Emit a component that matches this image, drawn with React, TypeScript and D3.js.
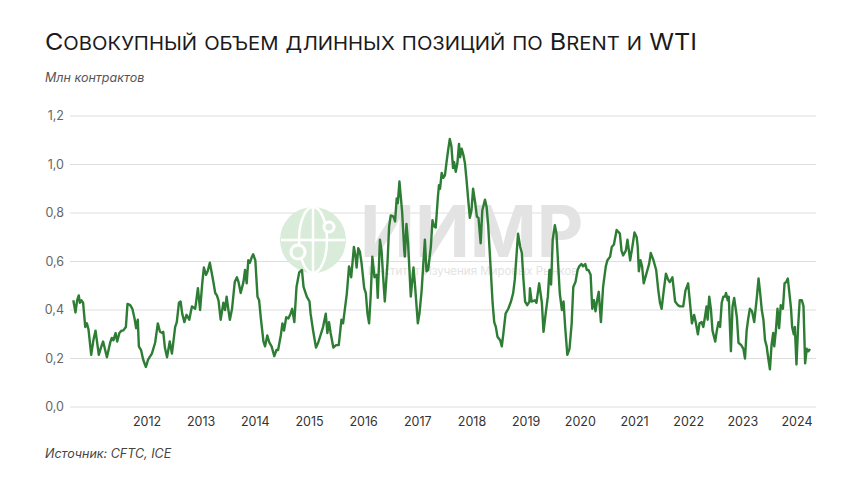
import React from "react";
import * as d3 from "d3";

// decimal-year dates and values (mln contracts)
const dates: number[] = [
  2010.64, 2010.68, 2010.71, 2010.74, 2010.76, 2010.79, 2010.82, 2010.86, 2010.89, 2010.92,
  2010.97, 2011.01, 2011.05, 2011.11, 2011.15, 2011.19, 2011.26, 2011.32, 2011.35, 2011.38,
  2011.42, 2011.45, 2011.49, 2011.53, 2011.56, 2011.61, 2011.64, 2011.69, 2011.73, 2011.77,
  2011.80, 2011.83, 2011.85, 2011.89, 2011.93, 2011.98, 2012.02, 2012.09, 2012.15, 2012.20,
  2012.24, 2012.28, 2012.30, 2012.33, 2012.37, 2012.42, 2012.46, 2012.49, 2012.52, 2012.55,
  2012.59, 2012.62, 2012.65, 2012.69, 2012.73, 2012.78, 2012.83, 2012.89, 2012.94, 2012.98,
  2013.02, 2013.05, 2013.09, 2013.12, 2013.16, 2013.21, 2013.26, 2013.29, 2013.32, 2013.36,
  2013.41, 2013.44, 2013.47, 2013.50, 2013.53, 2013.57, 2013.62, 2013.66, 2013.69, 2013.73,
  2013.78, 2013.81, 2013.84, 2013.87, 2013.90, 2013.93, 2013.96, 2014.00, 2014.04, 2014.07,
  2014.10, 2014.15, 2014.18, 2014.22, 2014.26, 2014.30, 2014.35, 2014.39, 2014.42, 2014.47,
  2014.50, 2014.53, 2014.57, 2014.61, 2014.65, 2014.68, 2014.72, 2014.76, 2014.81, 2014.86,
  2014.89, 2014.95, 2015.00, 2015.02, 2015.07, 2015.12, 2015.16, 2015.23, 2015.25, 2015.30,
  2015.33, 2015.36, 2015.39, 2015.44, 2015.49, 2015.54, 2015.59, 2015.62, 2015.69, 2015.73,
  2015.77, 2015.82, 2015.85, 2015.87, 2015.90, 2015.93, 2015.96, 2016.01, 2016.04, 2016.07,
  2016.10, 2016.13, 2016.16, 2016.20, 2016.24, 2016.26, 2016.30, 2016.33, 2016.36, 2016.39,
  2016.44, 2016.47, 2016.50, 2016.55, 2016.58, 2016.61, 2016.63, 2016.66, 2016.68, 2016.71,
  2016.75, 2016.76, 2016.79, 2016.82, 2016.87, 2016.92, 2016.95, 2017.00, 2017.03, 2017.07,
  2017.13, 2017.16, 2017.19, 2017.24, 2017.27, 2017.30, 2017.33, 2017.37, 2017.39, 2017.41,
  2017.44, 2017.47, 2017.50, 2017.53, 2017.56, 2017.59, 2017.62, 2017.65, 2017.67, 2017.70,
  2017.73, 2017.76, 2017.78, 2017.81, 2017.84, 2017.87, 2017.90, 2017.93, 2017.96, 2017.99,
  2018.02, 2018.06, 2018.09, 2018.12, 2018.16, 2018.19, 2018.24, 2018.27, 2018.30, 2018.35,
  2018.38, 2018.41, 2018.44, 2018.47, 2018.52, 2018.55, 2018.58, 2018.62, 2018.67, 2018.72,
  2018.76, 2018.79, 2018.82, 2018.85, 2018.89, 2018.92, 2018.95, 2018.98, 2019.02, 2019.06,
  2019.07, 2019.10, 2019.16, 2019.19, 2019.24, 2019.29, 2019.32, 2019.36, 2019.40, 2019.43,
  2019.46, 2019.49, 2019.53, 2019.56, 2019.59, 2019.62, 2019.66, 2019.69, 2019.72, 2019.76,
  2019.80, 2019.84, 2019.87, 2019.91, 2019.95, 2019.98, 2020.02, 2020.05, 2020.09, 2020.12,
  2020.15, 2020.19, 2020.22, 2020.25, 2020.28, 2020.31, 2020.34, 2020.38, 2020.42, 2020.47,
  2020.50, 2020.55, 2020.58, 2020.62, 2020.67, 2020.73, 2020.76, 2020.79, 2020.84, 2020.87,
  2020.92, 2020.96, 2021.00, 2021.04, 2021.06, 2021.08, 2021.11, 2021.14, 2021.17, 2021.22,
  2021.27, 2021.30, 2021.35, 2021.40, 2021.44, 2021.47, 2021.50, 2021.54, 2021.58, 2021.62,
  2021.65, 2021.70, 2021.72, 2021.75, 2021.80, 2021.84, 2021.90, 2021.94, 2021.99, 2022.02,
  2022.06, 2022.10, 2022.13, 2022.17, 2022.20, 2022.24, 2022.27, 2022.30, 2022.33, 2022.35,
  2022.38, 2022.41, 2022.44, 2022.49, 2022.52, 2022.55, 2022.58, 2022.61, 2022.64, 2022.67,
  2022.69, 2022.72, 2022.74, 2022.78, 2022.81, 2022.84, 2022.89, 2022.92, 2022.97, 2023.01,
  2023.04, 2023.07, 2023.10, 2023.13, 2023.17, 2023.21, 2023.26, 2023.29, 2023.32, 2023.35,
  2023.38, 2023.41, 2023.44, 2023.47, 2023.50, 2023.53, 2023.56, 2023.58, 2023.61, 2023.64,
  2023.67, 2023.70, 2023.74, 2023.77, 2023.80, 2023.83, 2023.86, 2023.89, 2023.91, 2023.94,
  2023.96, 2023.99, 2024.02, 2024.05, 2024.09, 2024.12, 2024.15, 2024.18, 2024.21, 2024.24,
];

const values: number[] = [
  0.44, 0.39, 0.44, 0.46, 0.43, 0.44, 0.43, 0.33, 0.345, 0.32,
  0.215, 0.275, 0.315, 0.215, 0.245, 0.27, 0.205, 0.265, 0.285, 0.275,
  0.305, 0.27, 0.305, 0.315, 0.315, 0.33, 0.425, 0.42, 0.405, 0.365,
  0.325, 0.36, 0.25, 0.235, 0.195, 0.165, 0.195, 0.22, 0.265, 0.345,
  0.31, 0.305, 0.31, 0.245, 0.205, 0.27, 0.22, 0.275, 0.33, 0.35,
  0.43, 0.435, 0.385, 0.35, 0.38, 0.36, 0.415, 0.405, 0.49, 0.40,
  0.51, 0.575, 0.545, 0.56, 0.595, 0.535, 0.47, 0.46, 0.44, 0.36,
  0.43, 0.40, 0.455, 0.405, 0.36, 0.405, 0.515, 0.535, 0.515, 0.47,
  0.515, 0.565, 0.51, 0.605, 0.595, 0.615, 0.63, 0.605, 0.455, 0.44,
  0.37, 0.27, 0.25, 0.295, 0.265, 0.25, 0.21, 0.235, 0.235, 0.295,
  0.345, 0.315, 0.37, 0.365, 0.385, 0.405, 0.35, 0.495, 0.555, 0.565,
  0.495, 0.455, 0.435, 0.385, 0.31, 0.245, 0.265, 0.315, 0.33, 0.385,
  0.305, 0.35, 0.305, 0.245, 0.255, 0.255, 0.36, 0.345, 0.47, 0.58,
  0.535, 0.66, 0.62, 0.575, 0.655, 0.64, 0.595, 0.49, 0.47, 0.385,
  0.345, 0.46, 0.62, 0.535, 0.545, 0.45, 0.69, 0.645, 0.535, 0.435,
  0.595, 0.745, 0.79, 0.785, 0.765, 0.86, 0.84, 0.93, 0.88, 0.805,
  0.645, 0.62, 0.755, 0.675, 0.455, 0.575, 0.495, 0.345, 0.385, 0.48,
  0.69, 0.56, 0.565, 0.66, 0.77, 0.745, 0.74, 0.865, 0.915, 0.90,
  0.965, 0.945, 0.955, 1.01, 1.06, 1.105, 1.075, 0.985, 1.01, 0.97,
  1.005, 1.085, 1.03, 1.065, 1.04, 1.005, 0.935, 0.855, 0.78, 0.81,
  0.90, 0.84, 0.785, 0.78, 0.675, 0.81, 0.855, 0.825, 0.745, 0.55,
  0.43, 0.35, 0.33, 0.29, 0.275, 0.25, 0.305, 0.385, 0.405, 0.435,
  0.47, 0.525, 0.62, 0.715, 0.66, 0.635, 0.525, 0.435, 0.42, 0.435,
  0.49, 0.435, 0.44, 0.43, 0.51, 0.43, 0.31, 0.385, 0.455, 0.565,
  0.505, 0.69, 0.75, 0.715, 0.59, 0.47, 0.40, 0.435, 0.33, 0.215,
  0.24, 0.345, 0.495, 0.515, 0.565, 0.58, 0.59, 0.58, 0.59, 0.565,
  0.565, 0.545, 0.405, 0.44, 0.395, 0.44, 0.475, 0.35, 0.495, 0.58,
  0.605, 0.62, 0.66, 0.67, 0.73, 0.715, 0.645, 0.625, 0.645, 0.69,
  0.605, 0.66, 0.72, 0.70, 0.66, 0.56, 0.605, 0.58, 0.51, 0.55,
  0.59, 0.635, 0.605, 0.565, 0.48, 0.43, 0.405, 0.48, 0.55, 0.525,
  0.515, 0.535, 0.495, 0.435, 0.42, 0.415, 0.415, 0.48, 0.51, 0.44,
  0.345, 0.38, 0.35, 0.30, 0.345, 0.35, 0.33, 0.37, 0.415, 0.36,
  0.455, 0.405, 0.315, 0.27, 0.315, 0.35, 0.33, 0.43, 0.455, 0.455,
  0.47, 0.44, 0.455, 0.23, 0.415, 0.45, 0.37, 0.265, 0.255, 0.24,
  0.20, 0.315, 0.365, 0.405, 0.395, 0.35, 0.455, 0.53, 0.47, 0.40,
  0.36, 0.275, 0.25, 0.20, 0.155, 0.255, 0.305, 0.25, 0.315, 0.405,
  0.325, 0.42, 0.405, 0.51, 0.515, 0.53, 0.47, 0.405, 0.33, 0.30,
  0.33, 0.175, 0.33, 0.44, 0.44, 0.415, 0.18, 0.24, 0.23, 0.24,
];

const yearTicks: number[] = [2012, 2013, 2014, 2015, 2016, 2017, 2018, 2019, 2020, 2021, 2022, 2023, 2024];
const yTicks: number[] = [0, 0.2, 0.4, 0.6, 0.8, 1.0, 1.2];

const TITLE = "Совокупный объем длинных позиций по Brent и WTI";
const UNIT = "Млн контрактов";
const SOURCE = "Источник: CFTC, ICE";
const WM_BIG = "ИИМР";
const WM_SMALL = "Институт Изучения Мировых Рынков";

// split a string into runs of capitals / lower-case letters for a small-caps rendering
function smallCapsRuns(s: string): { text: string; small: boolean }[] {
  const runs: { text: string; small: boolean }[] = [];
  for (const ch of s) {
    const small = ch !== ch.toUpperCase();
    const last = runs[runs.length - 1];
    if (last && last.small === small) last.text += small ? ch.toUpperCase() : ch;
    else runs.push({ text: small ? ch.toUpperCase() : ch, small });
  }
  return runs;
}

export default function App() {
  const W = 860, H = 484;
  const x = d3.scaleLinear().domain([2012, 2024]).range([147, 797]);
  const y = d3.scaleLinear().domain([0, 1.2]).range([407, 116]);
  const pts: [number, number][] = dates.map((d, i) => [d, values[i]]);
  const line = d3.line<[number, number]>().x(d => x(d[0])).y(d => y(d[1]));
  const fmt = (v: number) => d3.format(".1f")(v).replace(".", ",");
  const font = "Inter, 'Open Sans', sans-serif";
  const runs = smallCapsRuns(TITLE);

  return (
    <svg width={W} height={H} style={{ position: "absolute", left: 0, top: 0, background: "#fff" }} fontFamily={font}>
      <rect x={0} y={0} width={W} height={H} fill="#fff" />
      <text x={45} y={50} fill="#1a1a1a" fontSize={23} textLength={652} lengthAdjust="spacingAndGlyphs">
        {runs.map((r, i) => (
          <tspan key={i} fontSize={r.small ? 18.5 : 23}>{r.text}</tspan>
        ))}
      </text>
      <text x={45} y={82} fontSize={12.5} fill="#555" fontStyle="italic">{UNIT}</text>

      {yTicks.map(t => (
        <g key={t}>
          <line x1={70} x2={816} y1={y(t)} y2={y(t)} stroke="#dedede" strokeWidth={1} />
          <text x={64} y={y(t) + 4} fontSize={12.5} fill="#666" textAnchor="end">{fmt(t)}</text>
        </g>
      ))}

      {/* watermark */}
      <g>
        <circle cx={313} cy={240} r={33} fill="#d9ecd9" />
        <ellipse cx={313} cy={240} rx={14} ry={33} fill="none" stroke="#fff" strokeWidth={2.5} />
        <line x1={313} x2={313} y1={207} y2={273} stroke="#fff" strokeWidth={2.5} />
        <line x1={281} x2={345} y1={240} y2={240} stroke="#fff" strokeWidth={2.5} />
        <circle cx={298} cy={252} r={7} fill="#d9ecd9" stroke="#fff" strokeWidth={3} />
        <circle cx={329} cy={227} r={5} fill="#d9ecd9" stroke="#fff" strokeWidth={3} />
        <text x={360} y={257} fontSize={72} fontWeight={700} fill="#e3e3e3">{WM_BIG}</text>
        <text x={368} y={275} fontSize={11.5} fill="#e3e3e3">{WM_SMALL}</text>
      </g>

      <path d={line(pts) || ""} fill="none" stroke="#2e7d35" strokeWidth={2.4} strokeLinejoin="round" />

      {yearTicks.map(t => (
        <text key={t} x={x(t)} y={426} fontSize={12.5} fill="#333" textAnchor="middle">{t}</text>
      ))}

      <text x={45} y={458} fontSize={12.5} fill="#444" fontStyle="italic">{SOURCE}</text>
    </svg>
  );
}
